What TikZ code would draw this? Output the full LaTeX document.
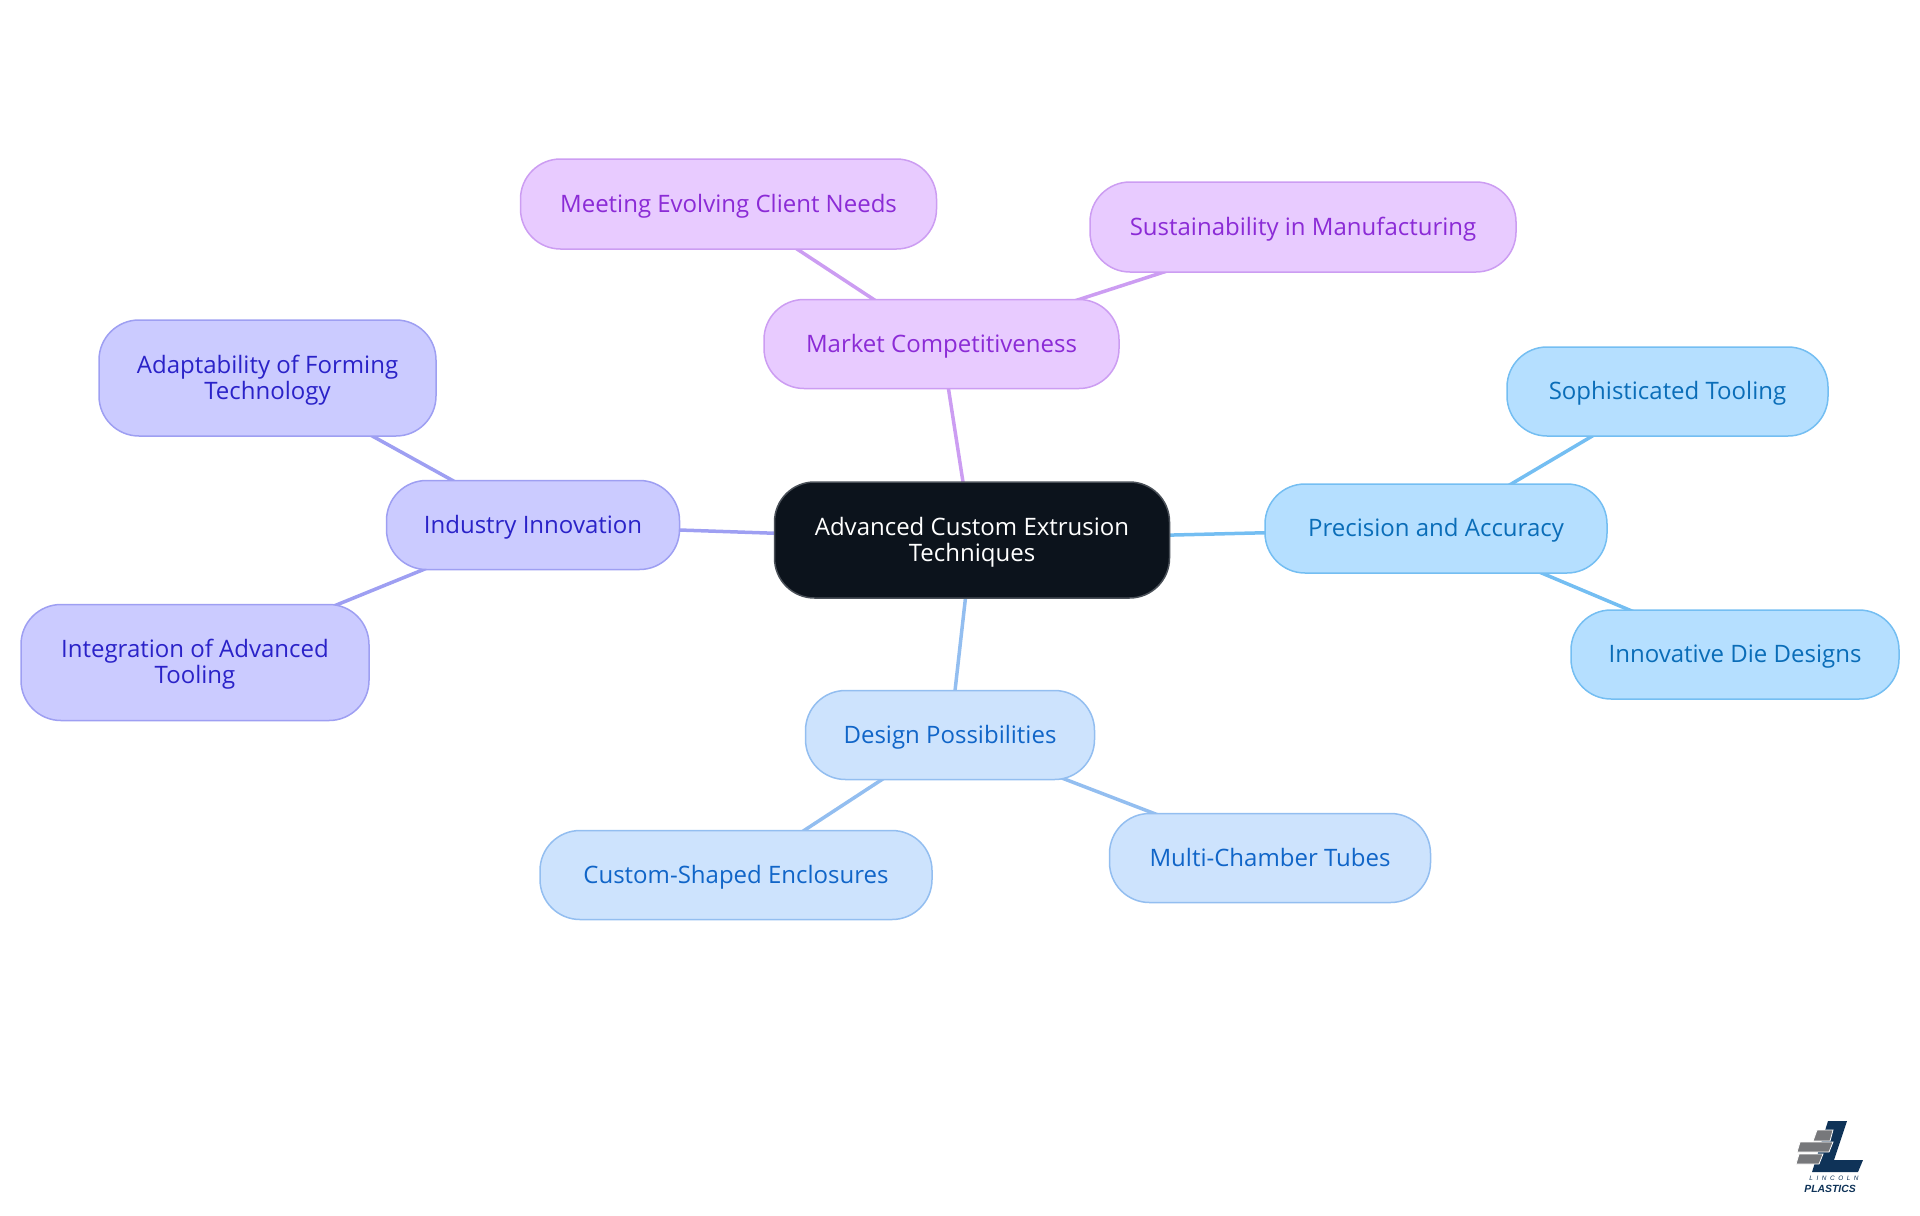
\documentclass[tikz,border=0pt]{standalone}
\usepackage{fontspec}
\setmainfont{Open Sans}
\newfontfamily\logofont{Liberation Sans}
\usepackage{tikz}
\usetikzlibrary{backgrounds}
\definecolor{rootfill}{HTML}{0C131C}
\definecolor{rootline}{HTML}{4A5058}
\definecolor{purplefill}{HTML}{E8CBFF}
\definecolor{purpleline}{HTML}{CC9DF2}
\definecolor{purpletext}{HTML}{8B2BD6}
\definecolor{paleblue}{HTML}{CDE3FD}
\definecolor{palebline}{HTML}{93BEF0}
\definecolor{palebtext}{HTML}{1065C8}
\definecolor{skyfill}{HTML}{B5DFFF}
\definecolor{skyline}{HTML}{74BEF2}
\definecolor{skytext}{HTML}{0A6DB8}
\definecolor{indigofill}{HTML}{CBCBFF}
\definecolor{indigoline}{HTML}{9E9FF2}
\definecolor{indigotext}{HTML}{2A22C8}
\definecolor{logonavy}{HTML}{0F3358}
\definecolor{logogray}{HTML}{77787B}
\tikzset{
    bubble/.style={draw,line width=0.75pt,rounded corners=20pt,inner sep=0pt,align=center,font=\fontsize{12}{13}\selectfont},
    rootnode/.style={bubble,fill=rootfill,draw=rootline,text=white},
    purplenode/.style={bubble,fill=purplefill,draw=purpleline,text=purpletext},
    palenode/.style={bubble,fill=paleblue,draw=palebline,text=palebtext},
    skynode/.style={bubble,fill=skyfill,draw=skyline,text=skytext},
    indigonode/.style={bubble,fill=indigofill,draw=indigoline,text=indigotext},
    edgeline/.style={line width=1.75pt},
    brick/.style={fill=logogray,draw=white,line width=0.4pt}
}
\newcommand{\createbubble}[7]{\node[#2,minimum width=#5*0.5pt,minimum height=#6*0.5pt] (#1) at ( #3 , #4 ) {\rule{0pt}{11pt}#7\rule[-3pt]{0pt}{3pt}};}
\begin{document}
\begin{tikzpicture}[x=0.5pt,y=-0.5pt]
    \useasboundingbox (0,0) rectangle (1920,1215);
    \createbubble{root}{rootnode}{972}{540}{395}{116}{Advanced Custom Extrusion\\Techniques}
    \createbubble{market}{purplenode}{941.5}{344}{355}{89}{Market Competitiveness}
    \createbubble{meeting}{purplenode}{728.5}{204}{416}{90}{Meeting Evolving Client Needs}
    \createbubble{sustain}{purplenode}{1303}{227}{426}{90}{Sustainability in Manufacturing}
    \createbubble{precision}{skynode}{1436}{528.5}{342}{89}{Precision and Accuracy}
    \createbubble{tooling}{skynode}{1667.5}{391.5}{321}{89}{Sophisticated Tooling}
    \createbubble{diedesign}{skynode}{1735}{654.5}{328}{89}{Innovative Die Designs}
    \createbubble{design}{palenode}{950}{735}{289}{89}{Design Possibilities}
    \createbubble{enclosure}{palenode}{736}{875}{392}{89}{Custom-Shaped Enclosures}
    \createbubble{tubes}{palenode}{1270}{858}{321}{89}{Multi-Chamber Tubes}
    \createbubble{industry}{indigonode}{533}{525}{293}{89}{Industry Innovation}
    \createbubble{adapt}{indigonode}{267.5}{378}{337}{116}{Adaptability of Forming\\Technology}
    \createbubble{integrate}{indigonode}{195}{662.5}{348}{116}{Integration of Advanced\\Tooling}
    \begin{pgfonlayer}{background}
        \draw[edgeline,purpleline] (root.center) -- (market.center);
        \draw[edgeline,purpleline] (market.center) -- (meeting.center);
        \draw[edgeline,purpleline] (market.center) -- (sustain.center);
        \draw[edgeline,skyline] (root.center) -- (precision.center);
        \draw[edgeline,skyline] (precision.center) -- (tooling.center);
        \draw[edgeline,skyline] (precision.center) -- (diedesign.center);
        \draw[edgeline,palebline] (root.center) -- (design.center);
        \draw[edgeline,palebline] (design.center) -- (enclosure.center);
        \draw[edgeline,palebline] (design.center) -- (tubes.center);
        \draw[edgeline,indigoline] (root.center) -- (industry.center);
        \draw[edgeline,indigoline] (industry.center) -- (adapt.center);
        \draw[edgeline,indigoline] (industry.center) -- (integrate.center);
    \end{pgfonlayer}
    % logo
    \fill[logonavy] (1828,1121) -- (1847,1121) -- (1834,1160) -- (1863,1160) -- (1858,1172) -- (1812,1172) -- cycle;
    \draw[brick] (1817,1130) -- (1833,1130) -- (1830,1141) -- (1813,1141) -- cycle;
    \draw[brick] (1800,1142) -- (1833,1142) -- (1829,1152) -- (1797,1152) -- cycle;
    \draw[brick] (1799,1154) -- (1823,1154) -- (1819,1164) -- (1796,1164) -- cycle;
    \node[inner sep=0pt,text=logonavy,font=\logofont\fontsize{3.2}{4}\selectfont\itshape] (logotop) at (1834,1178) {L\;\;I\;\;N\;\;C\;\;O\;\;L\;\;N};
    \node[inner sep=0pt,text=logonavy,font=\logofont\fontsize{5.2}{6}\selectfont\bfseries\itshape] (logoname) at (1830,1189) {PLASTICS};
\end{tikzpicture}
\end{document}
